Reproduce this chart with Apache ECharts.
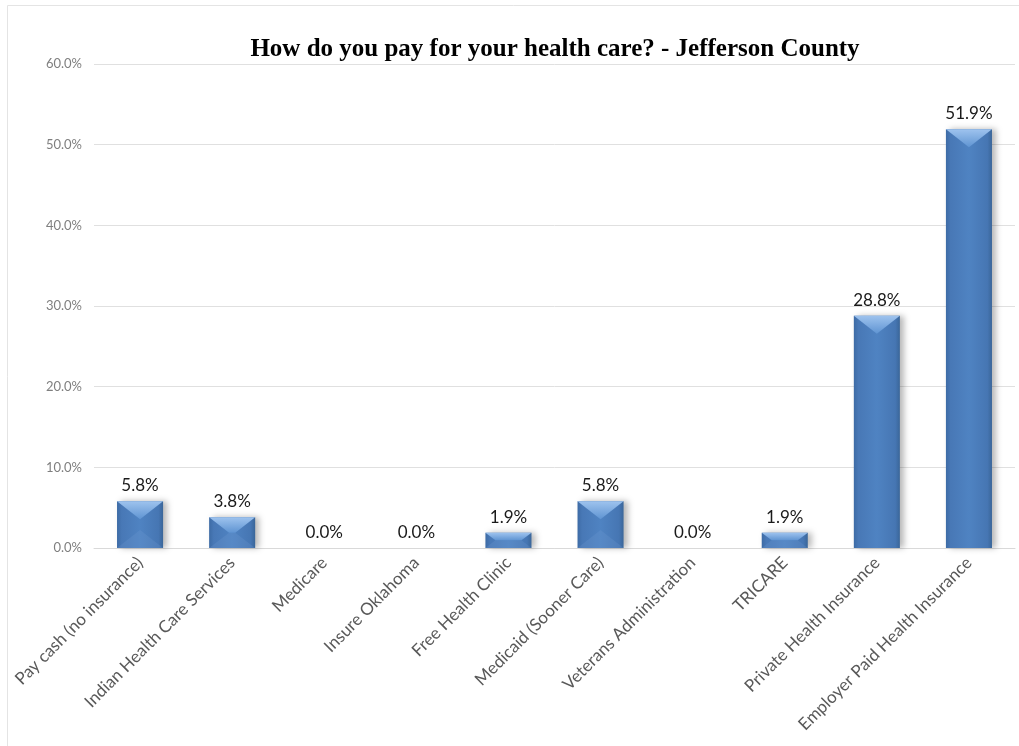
<!DOCTYPE html>
<html>
<head>
<meta charset="utf-8">
<script src="https://cdn.jsdelivr.net/npm/echarts@6/dist/echarts.min.js"></script>
<style>
  html, body { margin: 0; padding: 0; background: #ffffff; }
  #chart { width: 1019px; height: 746px; }
</style>
</head>
<body>
<div id="chart"></div>
<script>
// Survey answers: how people pay for their health care
const categories = [
  'Pay cash (no insurance)',
  'Indian Health Care Services',
  'Medicare',
  'Insure Oklahoma',
  'Free Health Clinic',
  'Medicaid (Sooner Care)',
  'Veterans Administration',
  'TRICARE',
  'Private Health Insurance',
  'Employer Paid Health Insurance'
];
const shares = [5.8, 3.8, 0.0, 0.0, 1.9, 5.8, 0.0, 1.9, 28.8, 51.9];
const yMin = 0;
const yMax = 60;
const yStep = 10;

const pct = v => Number(v).toFixed(1) + '%';

const chart = echarts.init(document.getElementById('chart'), null, { renderer: 'canvas' });

// Bar body: darker edges, lighter middle
const bodyFill = new echarts.graphic.LinearGradient(0, 0, 1, 0, [
  { offset: 0, color: '#3d6ba5' },
  { offset: 0.1, color: '#4878b6' },
  { offset: 0.5, color: '#4f83c2' },
  { offset: 0.9, color: '#4676b3' },
  { offset: 1, color: '#3a6699' }
]);

// Bevelled faces drawn over each bar: lit top, softer bottom on short bars
function renderBevel(params, api) {
  const v = api.value(1);
  if (!(v > 0)) return null;
  const top = api.coord([api.value(0), v]);
  const base = api.coord([api.value(0), 0]);
  const w = api.size([1, 0])[0] * 0.5;
  const x0 = top[0] - w / 2;
  const x1 = top[0] + w / 2;
  const y0 = top[1];
  const yb = base[1];
  const h = yb - y0;
  const d = Math.min(18, h / 2);
  const i = Math.min(w / 2, d * 1.3);
  const children = [];
  if (h < 60) {
    children.push({
      type: 'polygon',
      shape: { points: [[x0, yb], [x1, yb], [x1 - i, yb - d], [x0 + i, yb - d]] },
      style: { fill: 'rgba(120,160,215,0.22)' }
    });
  }
  children.push({
    type: 'polygon',
    shape: { points: [[x0, y0], [x1, y0], [x1 - i, y0 + d], [x0 + i, y0 + d]] },
    style: {
      fill: new echarts.graphic.LinearGradient(0, 0, 0, 1, [
        { offset: 0, color: '#9ec3ee' },
        { offset: 1, color: '#5f94d2' }
      ])
    }
  });
  return { type: 'group', children };
}

const option = {
  backgroundColor: '#ffffff',
  animation: false,
  title: {
    text: 'How do you pay for your health care? - Jefferson County',
    left: 550,
    textAlign: 'center',
    top: 32,
    textStyle: {
      fontFamily: 'Liberation Serif',
      fontWeight: 'bold',
      fontSize: 25,
      color: '#000000'
    }
  },
  graphic: [
    {
      type: 'rect',
      shape: { x: 7.5, y: 5.5, width: 1040, height: 780 },
      style: { fill: 'none', stroke: '#e4e4e4', lineWidth: 1 },
      z: -1
    }
  ],
  grid: { left: 94, right: 4, top: 64, bottom: 198 },
  xAxis: {
    type: 'category',
    data: categories,
    axisLine: { lineStyle: { color: '#d9d9d9', width: 1 } },
    axisTick: { show: false },
    axisLabel: {
      rotate: 45,
      interval: 0,
      margin: 12,
      color: '#595959',
      fontFamily: 'Lato',
      fontSize: 17
    }
  },
  yAxis: {
    type: 'value',
    min: yMin,
    max: yMax,
    interval: yStep,
    axisLine: { show: false },
    axisTick: { show: false },
    splitLine: { lineStyle: { color: '#e0e0e0', width: 1 } },
    axisLabel: {
      formatter: v => pct(v),
      color: '#7f7f7f',
      fontFamily: 'Lato',
      fontSize: 13,
      margin: 12
    }
  },
  series: [
    {
      type: 'bar',
      data: shares,
      barWidth: '50%',
      itemStyle: {
        color: bodyFill,
        shadowColor: 'rgba(0,0,0,0.28)',
        shadowBlur: 6,
        shadowOffsetX: 4,
        shadowOffsetY: 0
      },
      label: {
        show: true,
        position: 'top',
        distance: 7,
        formatter: p => pct(p.value),
        color: '#1a1a1a',
        fontFamily: 'Lato',
        fontSize: 17
      },
      z: 2
    },
    {
      type: 'custom',
      renderItem: renderBevel,
      data: shares.map((v, i) => [i, v]),
      encode: { x: 0, y: 1 },
      silent: true,
      z: 3
    }
  ]
};

chart.setOption(option);
</script>
</body>
</html>
